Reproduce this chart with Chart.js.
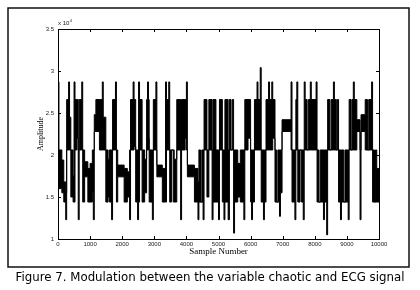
<!DOCTYPE html>
<html>
<head>
<meta charset="utf-8">
<script src="https://cdn.jsdelivr.net/npm/chart.js"></script>
<style>
  html, body { margin: 0; padding: 0; background: #fff; }
  #wrap { width: 420px; height: 290px; }
</style>
</head>
<body>
<div id="wrap"><canvas id="chart" width="420" height="290"></canvas></div>
<script>
// signal read off the figure as runs: from runStart[i] up to the next start the
// signal stays between runLow[i] and runHigh[i] (equal = flat, apart = dense switching)
const runStart = [
  0, 30, 120, 180, 240, 270, 330, 360, 400, 470, 500, 530, 590, 630, 660, 740, 770, 830, 930,
  1000, 1070, 1100, 1130, 1180, 1290, 1380, 1410, 1490, 1560, 1600, 1670, 1700, 1790, 1820, 1860,
  2060, 2160, 2230, 2260, 2340, 2370, 2420, 2480, 2510, 2540, 2620, 2700, 2760, 2790, 2820, 2840, 2940, 2970,
  3050, 3080, 3250, 3350, 3380, 3450, 3480, 3540, 3590, 3620, 3700, 3820, 3850, 3960,
  4000, 4030, 4250, 4360, 4390, 4440, 4480, 4520, 4550, 4640, 4700, 4800, 4830, 4920,
  5000, 5030, 5120, 5170, 5200, 5300, 5340, 5390, 5430, 5470, 5500, 5600, 5680, 5790, 5820, 5920,
  6000, 6030, 6060, 6120, 6200, 6230, 6300, 6330, 6400, 6430, 6480, 6560, 6590, 6660, 6690, 6760, 6810, 6850, 6900, 6930, 6980,
  7260, 7290, 7380, 7410, 7440, 7470, 7540, 7580, 7640, 7670, 7700, 7760, 7800, 7860, 7890,
  8040, 8070, 8130, 8170, 8270, 8300, 8370, 8400, 8470, 8510, 8580, 8610, 8670, 8700, 8740, 8800, 8830, 8900, 8940,
  9040, 9070, 9130, 9160, 9200, 9230, 9310, 9410, 9440, 9570, 9640, 9680, 9770, 9800, 9860, 9890, 9930
];
const runLow = [
  20600, 16000, 15500, 14400, 12300, 20600, 20600, 20600, 15000, 14400, 14400, 20600, 22000, 12300, 20600, 20600, 14400, 17400, 14400,
  14400, 15500, 12300, 22800, 22800, 20600, 20600, 20600, 14400, 15000, 14400, 12300, 20600, 20600, 14400, 17400,
  14400, 15000, 12300, 20600, 20600, 21000, 14400, 12300, 14400, 20600, 14400, 15500, 20600, 20600, 22000, 14400, 12300, 20600,
  20600, 17400, 14400, 14400, 20600, 20600, 14400, 20600, 14400, 14400, 20600, 12300, 20600, 22000,
  20600, 17400, 14400, 12300, 14400, 14400, 14400, 12300, 20600, 15000, 20600, 12300, 14400, 14400,
  12300, 20600, 14400, 12300, 14400, 12300, 20600, 20600, 20600, 10700, 14400, 15000, 14400, 12300, 20600, 22000,
  14400, 12300, 14400, 20600, 20600, 20600, 20600, 14400, 12300, 14400, 20600, 20600, 20600, 20600, 22000, 14400, 14400, 14400, 12700, 15500, 22800,
  20600, 14400, 12300, 20600, 20600, 14400, 20600, 14400, 12300, 20600, 20600, 20600, 20600, 20600, 20600,
  20600, 14400, 14400, 14400, 12300, 14400, 10500, 20600, 20600, 20600, 20600, 20600, 20600, 20600, 14400, 12300, 14400, 14400, 14400,
  12300, 20600, 20600, 20600, 20600, 20600, 22800, 12300, 22800, 20600, 20600, 20600, 20600, 14400, 14400, 14400, 14400
];
const runHigh = [
  28700, 20600, 19400, 16800, 15500, 26600, 28700, 24500, 20600, 17500, 28700, 26600, 26600, 20600, 26600, 28700, 20600, 19200, 18400,
  19000, 20600, 20600, 24800, 26600, 26600, 28700, 24500, 20600, 19500, 20600, 20600, 26600, 28700, 20600, 18800,
  18400, 18000, 20600, 26600, 28700, 26600, 20600, 20600, 28700, 26600, 20600, 19500, 26600, 28700, 26600, 20600, 20600, 26600,
  28700, 18800, 18400, 28700, 26600, 28700, 20600, 20600, 20600, 19500, 26600, 26600, 26600, 26600,
  28700, 18800, 18400, 16800, 20600, 14400, 20600, 20600, 26600, 20600, 26600, 20600, 26600, 20600,
  20600, 26600, 20600, 20600, 26600, 20600, 26600, 20600, 26600, 20600, 20600, 19000, 20600, 20600, 26600, 26600,
  20600, 20600, 20600, 26600, 28700, 26600, 30400, 20600, 20600, 20600, 26600, 28700, 26600, 28700, 26600, 20600, 14400, 20600, 20600, 20600, 24200,
  28700, 20600, 20600, 26600, 28700, 20600, 20600, 20600, 20600, 28700, 26600, 20600, 26600, 28700, 26600,
  28700, 20600, 14400, 20600, 20600, 20600, 20600, 26600, 20600, 26600, 28700, 26600, 20600, 26600, 20600, 20600, 20600, 14400, 20600,
  20600, 26600, 20600, 26600, 28700, 26600, 24200, 20600, 24800, 26600, 20600, 26600, 28700, 20600, 14400, 20600, 18400
];
const lastSample = 10000;

const xTicks = [0, 1000, 2000, 3000, 4000, 5000, 6000, 7000, 8000, 9000, 10000];
const yTicks = [10000, 15000, 20000, 25000, 30000, 35000];

const caption = 'Figure 7. Modulation between the variable chaotic and ECG signal';

if (runStart.length !== runLow.length || runStart.length !== runHigh.length) {
  console.error('run arrays differ in length', runStart.length, runLow.length, runHigh.length);
}

function toPoints(vals) {
  const pts = runStart.map((s, i) => ({ x: s, y: vals[i] }));
  pts.push({ x: lastSample, y: vals[vals.length - 1] });
  return pts;
}

// box, inward ticks, outer frame, caption, exponent label
const figureBits = {
  id: 'figureBits',
  afterDraw(chart) {
    const ctx = chart.ctx;
    const a = chart.chartArea;
    const xs = chart.scales.x, ys = chart.scales.y;
    ctx.save();
    ctx.strokeStyle = '#000';
    ctx.lineWidth = 1;
    ctx.strokeRect(Math.round(a.left) + 0.5, Math.round(a.top) + 0.5,
      Math.round(a.right - a.left), Math.round(a.bottom - a.top));
    ctx.beginPath();
    xTicks.forEach(v => {
      const px = Math.round(xs.getPixelForValue(v)) + 0.5;
      ctx.moveTo(px, a.bottom); ctx.lineTo(px, a.bottom - 3);
      ctx.moveTo(px, a.top); ctx.lineTo(px, a.top + 3);
    });
    yTicks.forEach(v => {
      const py = Math.round(ys.getPixelForValue(v)) + 0.5;
      ctx.moveTo(a.left, py); ctx.lineTo(a.left + 3, py);
      ctx.moveTo(a.right, py); ctx.lineTo(a.right - 3, py);
    });
    ctx.stroke();

    // exponent
    ctx.fillStyle = '#222';
    ctx.font = '6px "Liberation Sans", Arial, sans-serif';
    ctx.textBaseline = 'alphabetic';
    ctx.textAlign = 'left';
    ctx.fillText('x 10', a.left, a.top - 4);
    const w = ctx.measureText('x 10').width;
    ctx.font = '4px "Liberation Sans", Arial, sans-serif';
    ctx.fillText('4', a.left + w + 0.5, a.top - 7);

    // outer frame
    ctx.lineWidth = 1.5;
    ctx.strokeStyle = '#111';
    ctx.strokeRect(8, 8, 401, 259);

    // caption
    ctx.fillStyle = '#000';
    ctx.font = '12px "DejaVu Sans", "Open Sans", sans-serif';
    ctx.textAlign = 'center';
    ctx.textBaseline = 'middle';
    ctx.fillText(caption, 210, 278, 389);
    ctx.restore();
  }
};

new Chart(document.getElementById('chart'), {
  type: 'line',
  data: {
    datasets: [
      {
        label: 'upper',
        data: toPoints(runHigh),
        stepped: true,
        borderColor: '#000',
        backgroundColor: '#000',
        borderWidth: 1,
        pointRadius: 0,
        fill: '+1'
      },
      {
        label: 'lower',
        data: toPoints(runLow),
        stepped: true,
        borderColor: '#000',
        borderWidth: 1,
        pointRadius: 0,
        fill: false
      }
    ]
  },
  options: {
    responsive: false,
    animation: false,
    events: [],
    layout: { padding: { left: 36, top: 29, right: 41, bottom: 27 } },
    plugins: {
      legend: { display: false },
      tooltip: { enabled: false }
    },
    scales: {
      x: {
        type: 'linear',
        min: 0,
        max: 10000,
        afterFit: s => { s.height = 24; },
        afterBuildTicks: s => { s.ticks = xTicks.map(v => ({ value: v })); },
        grid: { display: false, drawTicks: false },
        border: { display: false },
        ticks: {
          autoSkip: false,
          maxRotation: 0,
          padding: 2,
          color: '#222',
          font: { family: '"Liberation Sans", Arial, sans-serif', size: 6 },
          callback: v => String(v)
        },
        title: {
          display: true,
          text: 'Sample Number',
          color: '#000',
          padding: { top: 0, bottom: 6 },
          font: { family: '"Liberation Serif", "Times New Roman", serif', size: 9 }
        }
      },
      y: {
        type: 'linear',
        min: 10000,
        max: 35000,
        afterFit: s => { s.width = 22; },
        afterBuildTicks: s => { s.ticks = yTicks.map(v => ({ value: v })); },
        grid: { display: false, drawTicks: false },
        border: { display: false },
        ticks: {
          padding: 4,
          color: '#222',
          font: { family: '"Liberation Sans", Arial, sans-serif', size: 6 },
          callback: v => String(v / 10000)
        },
        title: {
          display: true,
          text: 'Amplitude',
          color: '#000',
          padding: { top: 0, bottom: 0 },
          font: { family: '"Liberation Serif", "Times New Roman", serif', size: 8 }
        }
      }
    }
  },
  plugins: [figureBits]
});
</script>
</body>
</html>
